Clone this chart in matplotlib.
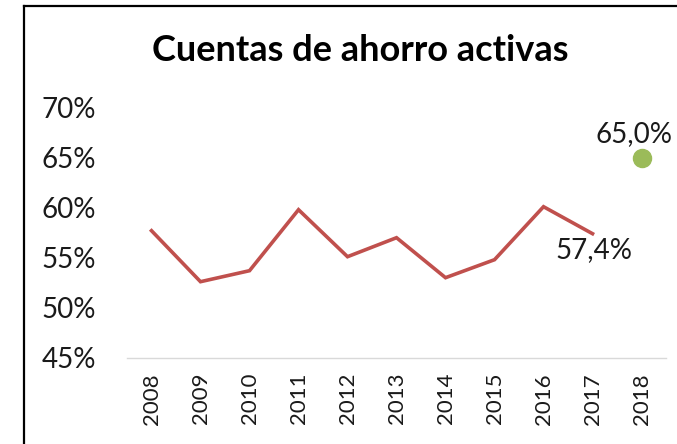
import matplotlib.pyplot as plt
from matplotlib.lines import Line2D
from matplotlib.ticker import FuncFormatter

# data
years = ['2008', '2009', '2010', '2011', '2012', '2013', '2014', '2015', '2016', '2017', '2018']
hist_years = years[:10]
hist_values = [57.7, 52.6, 53.7, 59.8, 55.1, 57.0, 53.0, 54.8, 60.1, 57.4]
target_year = '2018'
target_value = 65.0
yticks = [45, 50, 55, 60, 65, 70]

plt.rcParams['font.family'] = ['Lato', 'DejaVu Sans']

fig = plt.figure(figsize=(6.77, 4.44), dpi=100)
ax = fig.add_axes([0.1876, 0.1944, 0.7962, 0.563])

x_hist = [years.index(y) for y in hist_years]
x_target = years.index(target_year)

ax.plot(x_hist, hist_values, color='#C0504D', linewidth=2.6, solid_joinstyle='miter')
ax.plot([x_target], [target_value], 'o', color='#9BBB59', markersize=13)

# data labels
ax.text(x_hist[-1] + 0.03, hist_values[-1] - 1.63, '57,4%', fontsize=20,
        ha='center', va='center', color='#1a1a1a')
ax.text(x_target - 0.16, target_value + 2.4, '65,0%', fontsize=20,
        ha='center', va='center', color='#1a1a1a')

ax.set_xlim(-0.5, len(years) - 0.5)
ax.set_ylim(45, 70)
ax.set_xticks(range(len(years)))
ax.set_xticklabels(years, rotation=90, fontsize=16)
ax.set_yticks(yticks)
ax.yaxis.set_major_formatter(FuncFormatter(lambda v, p: f'{v:.0f}%'))
ax.tick_params(axis='y', labelsize=20, length=0, pad=22, labelcolor='#1a1a1a')
ax.tick_params(axis='x', length=0, pad=11, labelcolor='#1a1a1a')

for s in ['top', 'right', 'left']:
    ax.spines[s].set_visible(False)
ax.spines['bottom'].set_color('#D9D9D9')
ax.spines['bottom'].set_linewidth(1)

fig.text(0.532, 0.887, 'Cuentas de ahorro activas', fontsize=26, fontweight='bold',
         ha='center', va='center')

# chart border (only left and top edges visible in the crop)
fig.add_artist(Line2D([0.0355, 0.0355], [0, 0.9865], color='black', linewidth=1.6, transform=fig.transFigure))
fig.add_artist(Line2D([0.0355, 1], [0.9865, 0.9865], color='black', linewidth=1.6, transform=fig.transFigure))

fig.savefig('out.png', dpi=100)
